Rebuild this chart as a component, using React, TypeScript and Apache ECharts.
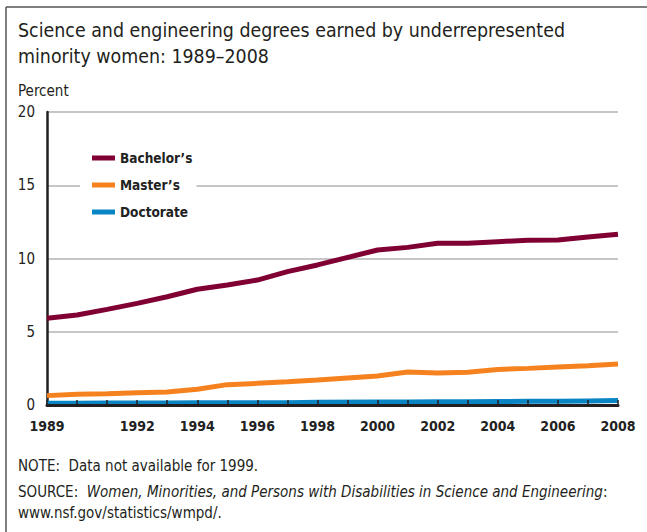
import React, { useEffect, useRef } from "react";
import * as echarts from "echarts";

const years = [1989, 1990, 1991, 1992, 1993, 1994, 1995, 1996, 1997, 1998, 2000, 2001, 2002, 2003, 2004, 2005, 2006, 2007, 2008];
const bachelors = [5.92, 6.14, 6.53, 6.94, 7.39, 7.9, 8.19, 8.53, 9.1, 9.56, 10.58, 10.76, 11.04, 11.04, 11.15, 11.24, 11.26, 11.47, 11.65];
const masters = [0.64, 0.73, 0.77, 0.84, 0.89, 1.07, 1.39, 1.48, 1.59, 1.71, 1.98, 2.25, 2.18, 2.23, 2.43, 2.5, 2.59, 2.68, 2.8];
const doctorate = [0.12, 0.12, 0.13, 0.13, 0.14, 0.15, 0.15, 0.16, 0.16, 0.18, 0.2, 0.21, 0.22, 0.22, 0.24, 0.25, 0.26, 0.28, 0.3];
const xTickLabels = [1989, 1992, 1994, 1996, 1998, 2000, 2002, 2004, 2006, 2008];
const seriesNames = ["Bachelor’s", "Master’s", "Doctorate"];
const titleLines = ["Science and engineering degrees earned by underrepresented", "minority women: 1989–2008"];

const FONT = "'DejaVu Sans Condensed', Roboto, sans-serif";

export default function App() {
  const ref = useRef<HTMLDivElement>(null);
  useEffect(() => {
    if (!ref.current) return;
    const chart = echarts.init(ref.current, null, { renderer: "svg" });
    const pairs = (vals: number[]) => years.map((y, i) => [y, vals[i]]);
    const colors = ["#800034", "#f5821f", "#0a85c4"];
    chart.setOption({
      animation: false,
      backgroundColor: "#ffffff",
      textStyle: { fontFamily: FONT },
      grid: { left: 47, right: 29, top: 112, bottom: 127 },
      legend: {
        orient: "vertical",
        left: 80,
        top: 144,
        padding: [6, 4, 6, 12],
        backgroundColor: "#ffffff",
        itemWidth: 23,
        itemHeight: 5,
        itemGap: 11,
        icon: "rect",
        textStyle: { fontFamily: FONT, fontSize: 13.5, fontWeight: "bold", color: "#222", lineHeight: 16 },
        data: seriesNames,
      },
      xAxis: {
        type: "value",
        min: 1989,
        max: 2008,
        interval: 1,
        z: 10,
        axisLine: { show: true, lineStyle: { color: "#231f20", width: 3 } },
        axisTick: { show: true, inside: true, length: 5, lineStyle: { color: "#231f20", width: 1.5 } },
        splitLine: { show: false },
        axisLabel: {
          margin: 14,
          fontFamily: FONT,
          fontSize: 14,
          fontWeight: "bold",
          color: "#222",
          formatter: (v: number) => (xTickLabels.includes(v) ? String(v) : ""),
        },
      },
      yAxis: {
        type: "value",
        min: 0,
        max: 20,
        interval: 5,
        z: 3,
        axisLine: { show: true, lineStyle: { color: "#231f20", width: 2.5 } },
        axisTick: { show: false },
        splitLine: { show: true, lineStyle: { color: "#b3b3b3", width: 1.5 } },
        axisLabel: { margin: 12, fontFamily: FONT, fontSize: 15, color: "#222" },
      },
      series: [
        { name: seriesNames[0], type: "line", data: pairs(bachelors), symbol: "none", lineStyle: { width: 5, color: colors[0] }, itemStyle: { color: colors[0] } },
        { name: seriesNames[1], type: "line", data: pairs(masters), symbol: "none", lineStyle: { width: 5, color: colors[1] }, itemStyle: { color: colors[1] } },
        { name: seriesNames[2], type: "line", data: pairs(doctorate), symbol: "none", lineStyle: { width: 5, color: colors[2] }, itemStyle: { color: colors[2] } },
      ],
      graphic: [
        { type: "line", shape: { x1: 6, y1: 7, x2: 647, y2: 7 }, style: { stroke: "#555", lineWidth: 1.5 } },
        { type: "line", shape: { x1: 6, y1: 7, x2: 6, y2: 532 }, style: { stroke: "#555", lineWidth: 1.5 } },
        { type: "text", x: 18, y: 20, scaleX: 0.97, style: { text: titleLines[0], font: `20px ${FONT}`, fill: "#231f20", verticalAlign: "top" } },
        { type: "text", x: 18, y: 46, scaleX: 0.97, style: { text: titleLines[1], font: `20px ${FONT}`, fill: "#231f20", verticalAlign: "top" } },
        { type: "text", x: 18, y: 83, style: { text: "Percent", font: `15px ${FONT}`, fill: "#231f20", verticalAlign: "top" } },
        { type: "text", x: 18, y: 458, style: { text: "NOTE:  Data not available for 1999.", font: `15px ${FONT}`, fill: "#231f20", verticalAlign: "top" } },
        {
          type: "text",
          x: 18,
          y: 484,
          style: {
            text: "{n|SOURCE:  }{i|Women, Minorities, and Persons with Disabilities in Science and Engineering}{n|:}",
            verticalAlign: "top",
            rich: {
              n: { font: `15px ${FONT}`, fill: "#231f20" },
              i: { font: `italic 15px ${FONT}`, fill: "#231f20" },
            },
          },
        },
        { type: "text", x: 18, y: 505, style: { text: "www.nsf.gov/statistics/wmpd/.", font: `15px ${FONT}`, fill: "#231f20", verticalAlign: "top" } },
      ],
    });
    return () => chart.dispose();
  }, []);
  return <div ref={ref} style={{ position: "absolute", left: 0, top: 0, width: 647, height: 532 }} />;
}
